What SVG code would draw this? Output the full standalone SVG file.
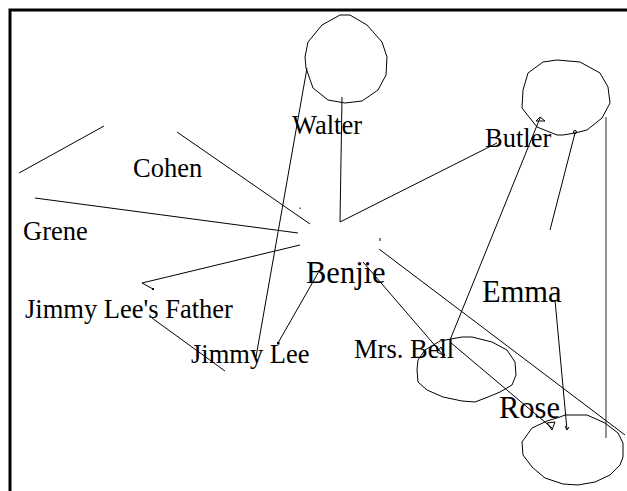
<svg xmlns="http://www.w3.org/2000/svg" width="627" height="491" viewBox="0 0 627 491">
<style>
.ln{fill:none;stroke:#000;stroke-width:1}
.nd{fill:none;stroke:#000;stroke-width:1}
.t{font-family:"Liberation Serif","Times New Roman",serif;fill:#000;font-size:26.5px}
.b{font-size:30.5px}
.gr{fill:none;stroke:#888;stroke-width:1.8}
</style>
<rect width="627" height="491" fill="#fff"/>
<path d="M10,491 V10 H627" fill="none" stroke="#000" stroke-width="3"/>
<g id="connectors">
<line class="ln" x1="307" y1="68" x2="256" y2="357"/>
<polyline class="ln" points="342,97 340,222 497,143"/>
<polyline class="ln" points="450,340 540,118"/>
<polygon class="ln" points="536,121 540,117 545,121"/>
<line class="ln" x1="575" y1="133" x2="550" y2="230"/>
<circle class="ln" cx="575" cy="132" r="1.5"/>
<line class="gr" x1="606" y1="117" x2="606" y2="438"/>
<line class="ln" x1="19" y1="173" x2="104" y2="126"/>
<line class="ln" x1="177" y1="132" x2="310" y2="224"/>
<line class="ln" x1="35" y1="198" x2="298" y2="233"/>
<polyline class="ln" points="300,245 142,283 153,289"/>
<rect x="152" y="288" width="2" height="2" fill="#000"/>
<line class="ln" x1="152" y1="318" x2="225" y2="371"/>
<line class="ln" x1="318" y1="273" x2="278" y2="343"/>
<rect x="277" y="342" width="2.5" height="2.5" fill="#000"/>
<line class="ln" x1="379" y1="249" x2="625" y2="435"/>
<line class="ln" x1="363" y1="262" x2="444" y2="356"/>
<polygon class="ln" points="437,352 445,356 441,347"/>
<line class="ln" x1="450" y1="342" x2="552" y2="428"/>
<polygon class="ln" points="547,423 555,422 552,430"/>
<line class="ln" x1="555" y1="300" x2="567" y2="430"/>
<polyline class="ln" points="565,426 567,430 569,427"/>
<line class="ln" x1="300" y1="207.5" x2="300" y2="209"/>
<line class="ln" x1="380" y1="238" x2="380" y2="241"/>
</g>
<g id="walter">
<polygon class="nd" points="340,15 350,15 367,25 382,42 387,57 386,75 378,90 362,101 345,103 328,100 313,88 306,68 305,57 308,42 322,25"/>
<text class="t" x="292" y="134">Walter</text>
</g>
<g id="butler">
<polygon class="nd" points="543,62 557,60 580,62 600,73 608,87 610,103 602,118 587,130 575,133 563,135 557,135 537,127 522,108 523,90 528,73"/>
<text class="t" x="485" y="147">Butler</text>
</g>
<g id="cohen"><text class="t" x="133" y="177">Cohen</text></g>
<g id="grene"><text class="t" x="23" y="240">Grene</text></g>
<g id="jimmy-lees-father"><text class="t" x="25" y="318">Jimmy Lee's Father</text></g>
<g id="jimmy-lee"><text class="t" x="191" y="363">Jimmy Lee</text></g>
<g id="benjie"><text class="t b" x="306" y="283">Benjie</text></g>
<g id="emma"><text class="t b" x="482" y="302">Emma</text></g>
<g id="mrs-bell">
<polygon class="nd" points="462,337 472,337 492,342 507,350 515,362 516,375 512,385 500,392 488,397 475,402 462,401 443,397 427,390 418,382 417,370 418,360 425,350 440,341"/>
<text class="t" x="354" y="358">Mrs. Bell</text>
</g>
<g id="rose">
<polygon class="nd" points="565,415 587,415 605,423 618,433 623,443 623,457 620,465 610,475 595,482 578,485 563,484 545,478 532,467 523,455 522,442 532,428 547,421 560,417"/>
<text class="t b" x="499" y="418">Rose</text>
</g>
</svg>
